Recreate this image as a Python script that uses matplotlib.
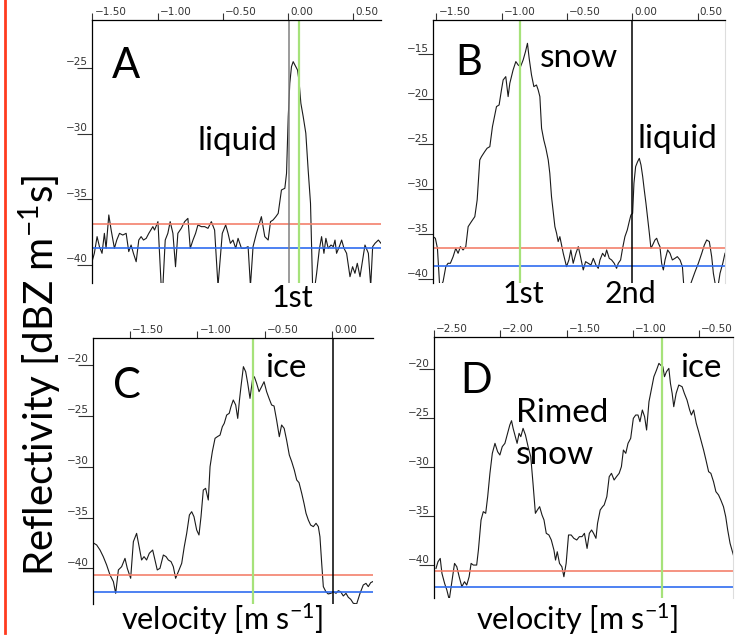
import matplotlib.pyplot as plt
from matplotlib.lines import Line2D

plt.rcParams['font.family'] = ['Lato', 'DejaVu Sans']
plt.rcParams['mathtext.fontset'] = 'custom'
plt.rcParams['mathtext.rm'] = 'Lato'
plt.rcParams['mathtext.it'] = 'Lato:italic'
plt.rcParams['mathtext.bf'] = 'Lato:bold'

# Panel A: liquid peak
vel_a = [-1.503, -1.485, -1.464, -1.446, -1.426, -1.408, -1.395, -1.374, -1.356, -1.331,
         -1.313, -1.292, -1.267, -1.241, -1.221, -1.203, -1.185, -1.164, -1.144, -1.126,
         -1.108, -1.087, -1.067, -1.036, -1.023, -0.997, -0.972, -0.959, -0.941, -0.921,
         -0.903, -0.882, -0.862, -0.844, -0.818, -0.792, -0.767, -0.749, -0.728, -0.708,
         -0.690, -0.664, -0.638, -0.613, -0.587, -0.562, -0.536, -0.503, -0.477, -0.459,
         -0.441, -0.421, -0.400, -0.382, -0.356, -0.331, -0.305, -0.287, -0.267, -0.241,
         -0.203, -0.177, -0.151, -0.133, -0.113, -0.092, -0.074, -0.049, -0.023, -0.010,
         0.003, 0.015, 0.028, 0.041, 0.054, 0.074, 0.085, 0.100, 0.118, 0.138,
         0.156, 0.174, 0.190, 0.208, 0.221, 0.241, 0.259, 0.277, 0.292, 0.310,
         0.331, 0.349, 0.362, 0.374, 0.395, 0.413, 0.431, 0.451, 0.477, 0.497,
         0.515, 0.533, 0.554, 0.574, 0.592, 0.618, 0.636, 0.651, 0.669, 0.695, 0.715]
refl_a = [-39.75, -39.11, -37.84, -38.60, -39.11, -37.59, -38.73, -36.19, -37.34, -38.73,
          -38.10, -37.59, -37.72, -37.59, -38.98, -38.48, -39.11, -39.75, -38.10, -37.84,
          -38.10, -37.97, -37.59, -37.08, -37.34, -36.70, -41.60, -41.60, -38.10, -37.59,
          -36.70, -37.59, -40.13, -37.59, -37.21, -36.70, -36.45, -38.73, -38.10, -37.59,
          -36.95, -37.08, -37.08, -37.21, -36.70, -37.34, -41.60, -37.59, -36.95, -37.59,
          -38.35, -38.10, -38.73, -37.97, -38.73, -38.73, -38.60, -41.60, -38.60, -37.59,
          -36.32, -37.84, -38.10, -36.70, -36.57, -36.32, -36.07, -34.29, -34.16, -33.02,
          -28.71, -26.17, -24.90, -24.52, -24.77, -25.15, -25.91, -27.69, -28.71, -29.97,
          -32.77, -35.30, -41.60, -41.60, -40.63, -38.86, -37.84, -39.11, -37.97, -38.73,
          -38.48, -38.60, -38.10, -39.11, -38.60, -38.10, -38.73, -39.11, -40.89, -40.13,
          -40.63, -39.87, -40.89, -39.62, -38.48, -39.11, -41.60, -38.60, -38.35, -38.10, -38.35]

# Panel B: snow + liquid
vel_b = [-1.526, -1.508, -1.492, -1.474, -1.449, -1.428, -1.411, -1.393, -1.372, -1.352,
         -1.334, -1.316, -1.296, -1.275, -1.257, -1.232, -1.206, -1.188, -1.168, -1.155,
         -1.130, -1.112, -1.091, -1.071, -1.053, -1.040, -1.020, -1.002, -0.989, -0.969,
         -0.951, -0.938, -0.913, -0.892, -0.874, -0.856, -0.836, -0.818, -0.803, -0.790,
         -0.772, -0.754, -0.734, -0.721, -0.708, -0.695, -0.678, -0.662, -0.644, -0.632,
         -0.619, -0.606, -0.593, -0.580, -0.568, -0.555, -0.542, -0.529, -0.504, -0.486,
         -0.471, -0.453, -0.432, -0.414, -0.397, -0.376, -0.358, -0.338, -0.317, -0.299,
         -0.279, -0.261, -0.248, -0.228, -0.210, -0.197, -0.177, -0.159, -0.139, -0.121,
         -0.108, -0.090, -0.075, -0.057, -0.039, -0.024, -0.011, 0.002, 0.012, 0.025,
         0.040, 0.053, 0.066, 0.079, 0.091, 0.104, 0.117, 0.130, 0.142, 0.155,
         0.173, 0.186, 0.199, 0.211, 0.224, 0.237, 0.250, 0.270, 0.288, 0.306,
         0.326, 0.344, 0.365, 0.383, 0.395, 0.434, 0.480, 0.505, 0.531, 0.551,
         0.569, 0.589, 0.607, 0.620, 0.640, 0.653, 0.671, 0.692, 0.709]
refl_b = [-35.26, -35.44, -36.56, -41.00, -40.26, -38.59, -38.22, -38.22, -37.48, -36.56,
          -37.11, -36.37, -36.74, -36.37, -34.15, -33.59, -33.04, -31.19, -26.74, -26.37,
          -25.81, -25.44, -25.26, -23.04, -21.74, -20.81, -20.63, -18.96, -17.85, -17.48,
          -19.70, -18.22, -16.74, -15.81, -16.19, -16.37, -15.63, -14.70, -13.78, -15.44,
          -17.30, -18.59, -18.41, -18.96, -19.70, -23.22, -24.52, -25.44, -26.74, -28.22,
          -30.81, -32.48, -34.15, -34.89, -35.81, -35.26, -36.19, -37.11, -38.59, -37.85,
          -36.74, -38.22, -37.11, -36.37, -37.48, -38.96, -38.04, -38.22, -38.41, -37.67,
          -38.41, -38.78, -37.85, -37.11, -37.48, -36.74, -37.67, -37.85, -38.22, -38.78,
          -38.22, -37.85, -36.56, -35.26, -34.52, -33.59, -32.85, -32.67, -29.33, -27.48,
          -26.93, -26.56, -27.30, -28.59, -30.07, -31.56, -33.22, -34.89, -36.56, -36.19,
          -35.63, -35.44, -36.00, -36.37, -38.22, -38.96, -37.85, -36.74, -37.11, -37.85,
          -37.67, -37.48, -37.85, -38.59, -41.00, -41.00, -39.15, -38.22, -37.11, -36.19,
          -35.63, -35.81, -37.48, -39.33, -41.00, -41.00, -39.33, -38.22, -37.11]

# Panel C: ice
vel_c = [-1.767, -1.747, -1.722, -1.698, -1.673, -1.648, -1.623, -1.606, -1.586, -1.562,
         -1.537, -1.520, -1.495, -1.475, -1.451, -1.430, -1.414, -1.396, -1.377, -1.357,
         -1.332, -1.315, -1.298, -1.278, -1.253, -1.233, -1.216, -1.196, -1.179, -1.162,
         -1.142, -1.117, -1.098, -1.080, -1.060, -1.043, -1.026, -1.006, -0.989, -0.974,
         -0.957, -0.940, -0.920, -0.907, -0.890, -0.870, -0.853, -0.833, -0.816, -0.802,
         -0.784, -0.765, -0.752, -0.735, -0.717, -0.702, -0.689, -0.678, -0.660, -0.643,
         -0.628, -0.611, -0.593, -0.579, -0.562, -0.544, -0.525, -0.507, -0.488, -0.470,
         -0.451, -0.433, -0.414, -0.394, -0.377, -0.358, -0.340, -0.320, -0.302, -0.283,
         -0.265, -0.248, -0.228, -0.211, -0.196, -0.179, -0.162, -0.142, -0.122, -0.105,
         -0.093, -0.080, -0.068, -0.049, -0.032, -0.012, 0.006, 0.026, 0.043, 0.060,
         0.080, 0.100, 0.117, 0.135, 0.154, 0.179, 0.204, 0.228, 0.248, 0.265, 0.283, 0.298]
refl_c = [-37.54, -37.70, -38.20, -38.85, -39.67, -40.66, -41.31, -42.46, -40.16, -39.84,
          -39.02, -40.00, -40.98, -37.38, -36.56, -38.03, -39.18, -38.85, -39.18, -38.52,
          -38.20, -39.18, -40.16, -40.00, -38.69, -38.85, -39.18, -39.34, -39.84, -40.98,
          -40.33, -39.51, -37.87, -36.56, -34.75, -34.43, -34.92, -36.23, -36.72, -34.92,
          -32.30, -32.13, -33.28, -30.00, -28.52, -27.21, -27.05, -26.89, -26.07, -25.74,
          -24.92, -24.75, -24.10, -23.44, -23.93, -25.25, -23.44, -22.13, -20.16, -20.66,
          -21.80, -23.28, -21.48, -21.15, -21.80, -22.62, -22.13, -21.64, -22.62, -23.28,
          -23.93, -24.03, -25.41, -27.05, -25.90, -26.23, -27.38, -28.85, -29.51, -30.33,
          -31.31, -31.57, -32.62, -33.61, -34.59, -35.25, -35.74, -35.90, -35.57, -35.90,
          -36.89, -39.51, -41.80, -42.30, -42.52, -42.46, -42.30, -42.46, -42.20, -42.30,
          -42.72, -42.46, -42.85, -43.05, -43.44, -43.50, -42.46, -41.64, -41.48, -41.80, -41.41, -41.31]

# Panel D: rimed snow + ice
vel_d = [-2.485, -2.470, -2.453, -2.440, -2.420, -2.403, -2.385, -2.365, -2.345, -2.328,
         -2.310, -2.290, -2.270, -2.253, -2.235, -2.220, -2.203, -2.178, -2.165, -2.145,
         -2.128, -2.110, -2.095, -2.078, -2.060, -2.040, -2.020, -2.003, -1.985, -1.965,
         -1.945, -1.928, -1.915, -1.903, -1.890, -1.873, -1.858, -1.845, -1.828, -1.810,
         -1.790, -1.770, -1.753, -1.735, -1.720, -1.703, -1.685, -1.670, -1.653, -1.633,
         -1.615, -1.595, -1.583, -1.570, -1.553, -1.535, -1.520, -1.503, -1.485, -1.465,
         -1.445, -1.423, -1.403, -1.383, -1.365, -1.345, -1.328, -1.311, -1.296, -1.278,
         -1.266, -1.246, -1.228, -1.216, -1.196, -1.178, -1.161, -1.141, -1.123, -1.103,
         -1.086, -1.071, -1.053, -1.036, -1.016, -0.996, -0.978, -0.961, -0.946, -0.928,
         -0.911, -0.896, -0.878, -0.861, -0.841, -0.821, -0.803, -0.791, -0.773, -0.761,
         -0.746, -0.728, -0.716, -0.703, -0.691, -0.673, -0.653, -0.628, -0.611, -0.591,
         -0.571, -0.558, -0.541, -0.521, -0.503, -0.486, -0.466, -0.448, -0.428, -0.411,
         -0.391, -0.373, -0.353, -0.336, -0.316, -0.299, -0.284, -0.266, -0.241]
refl_d = [-40.31, -39.63, -39.29, -40.82, -41.84, -42.52, -43.50, -41.67, -39.80, -40.14,
          -41.16, -42.18, -41.67, -42.01, -41.16, -39.80, -39.97, -39.97, -38.44, -35.37,
          -34.52, -34.69, -32.99, -30.61, -28.57, -27.55, -28.40, -28.74, -27.89, -27.55,
          -26.53, -25.68, -25.24, -26.02, -26.70, -27.55, -26.53, -26.87, -26.02, -26.70,
          -27.89, -28.91, -31.63, -34.69, -34.35, -34.01, -34.86, -35.37, -36.73, -36.90,
          -37.41, -38.44, -39.46, -38.61, -39.80, -40.14, -41.16, -39.80, -36.90, -36.90,
          -37.24, -37.41, -37.07, -37.07, -36.73, -38.27, -36.73, -36.39, -36.73, -37.24,
          -35.71, -34.35, -34.01, -33.84, -32.99, -30.95, -30.61, -31.29, -30.95, -30.61,
          -29.93, -28.23, -28.57, -27.55, -27.04, -25.00, -24.66, -24.66, -25.34, -24.15,
          -24.83, -26.19, -23.30, -22.11, -20.75, -20.07, -19.39, -19.56, -19.73, -20.75,
          -20.24, -19.90, -21.43, -22.45, -23.81, -22.45, -21.60, -21.77, -22.45, -23.13,
          -24.15, -24.66, -24.15, -25.51, -26.36, -27.21, -28.23, -29.25, -30.44, -30.61,
          -31.46, -32.48, -32.82, -33.33, -34.01, -35.03, -36.39, -37.76, -38.95]

panels = [
    # letter, pixel box (left, top, right, bottom), x range, y range, data
    dict(letter='A', box=(92, 20, 381, 283), xlim=(-1.503, 0.715), ylim=(-41.37, -21.35),
         vel=vel_a, refl=refl_a, red=-36.9, blue=-38.7, green=0.085, zero=0.010,
         zero_color='#808080', xticks=[-1.5, -1.0, -0.5, 0.0, 0.5], yticks=[-25, -30, -35, -40],
         right_edge=False),
    dict(letter='B', box=(433, 20, 725, 283), xlim=(-1.526, 0.709), ylim=(-40.41, -11.19),
         vel=vel_b, refl=refl_b, red=-36.5, blue=-38.5, green=-0.857, zero=0.0,
         zero_color='black', xticks=[-1.5, -1.0, -0.5, 0.0, 0.5],
         yticks=[-15, -20, -25, -30, -35, -40], right_edge=True),
    dict(letter='C', box=(93, 338, 373, 604), xlim=(-1.774, 0.30), ylim=(-43.51, -17.34),
         vel=vel_c, refl=refl_c, red=-40.66, blue=-42.36, green=-0.588, zero=0.005,
         zero_color='black', xticks=[-1.5, -1.0, -0.5, 0.0], yticks=[-20, -25, -30, -35, -40],
         right_edge=False),
    dict(letter='D', box=(434, 337, 733, 598), xlim=(-2.50, -0.244), ylim=(-43.33, -16.70),
         vel=vel_d, refl=refl_d, red=-40.54, blue=-42.24, green=-0.777, zero=None,
         zero_color='black', xticks=[-2.5, -2.0, -1.5, -1.0, -0.5],
         yticks=[-20, -25, -30, -35, -40], right_edge=True),
]

W, H = 742, 639
fig = plt.figure(figsize=(W / 100, H / 100), dpi=100)

for p in panels:
    l, t, r, b = p['box']
    ax = fig.add_axes([l / W, 1 - b / H, (r - l) / W, (b - t) / H])
    ax.plot(p['vel'], p['refl'], color='#1a1a1a', lw=0.8)
    ax.axhline(p['red'], color='#f4806c', lw=1.2)
    ax.axhline(p['blue'], color='#2f6cf0', lw=1.2)
    ax.axvline(p['green'], color='#a6e27a', lw=1.6)
    if p['zero'] is not None:
        ax.axvline(p['zero'], color=p['zero_color'], lw=1.1)
    ax.set_xlim(*p['xlim'])
    ax.set_ylim(*p['ylim'])

    for side in ['bottom', 'right']:
        ax.spines[side].set_visible(False)
    if p['right_edge']:
        ax.spines['right'].set_visible(True)
        ax.spines['right'].set_color('#dddddd')
    for side in ['left', 'top']:
        ax.spines[side].set_linewidth(0.9)

    ax.xaxis.tick_top()
    ax.set_xticks(p['xticks'])
    ax.set_yticks(p['yticks'])
    ax.tick_params(axis='x', direction='out', length=5, width=0.8, labeltop=False,
                   color='#333333')
    ax.tick_params(axis='y', direction='out', length=11, width=0.8, labelleft=False,
                   color='#333333')

    # tick labels sit beside/above the tick marks
    for v in p['xticks']:
        ax.annotate(f'{v:.2f}'.replace('-', '\u2212'), xy=(v, 1),
                    xycoords=ax.get_xaxis_transform(), xytext=(1.5, 2.5),
                    textcoords='offset points', ha='left', va='bottom',
                    fontsize=7.5, color='#333333', family='DejaVu Sans')
    for v in p['yticks']:
        ax.annotate(f'\u2212{abs(v)}', xy=(0, v), xycoords=ax.get_yaxis_transform(),
                    xytext=(-3, 0.5), textcoords='offset points', ha='right', va='bottom',
                    fontsize=7.5, color='#333333', family='DejaVu Sans')


def label(x, y, s, size=24):
    # x, y: left edge and baseline in pixels from the top-left corner
    fig.text(x / W, 1 - y / H, s, fontsize=size, ha='left', va='baseline', color='black')


label(112, 78, 'A', 30)
label(198, 150, 'liquid')
label(272, 307, '1st', 22)

label(455, 75, 'B', 30)
label(540, 67, 'snow')
label(637, 148, 'liquid')
label(503, 303, '1st', 22)
label(605, 303, '2nd', 22)

label(113, 398, 'C', 30)
label(265, 377, 'ice')

label(460, 393, 'D', 30)
label(516, 422, 'Rimed')
label(516, 464, 'snow')
label(680, 377, 'ice')

fig.text(222 / W, 1 - 630 / H, 'velocity [m s$^{-1}$]', fontsize=22, ha='center',
         va='baseline')
fig.text(577 / W, 1 - 630 / H, 'velocity [m s$^{-1}$]', fontsize=22, ha='center',
         va='baseline')
fig.text(40 / W, 1 - 375 / H, 'Reflectivity [dBZ m$^{-1}$s]', fontsize=29, rotation=90,
         ha='center', va='center')

fig.add_artist(Line2D([5 / W, 5 / W], [1, 1 - 633 / H], color='#ff3b1f', lw=2.0))

fig.savefig('out.png', dpi=100)
